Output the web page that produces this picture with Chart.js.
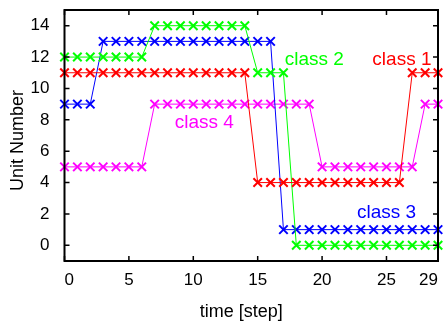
<!DOCTYPE html>
<html>
<head>
<meta charset="utf-8">
<script src="https://cdn.jsdelivr.net/npm/chart.js@4"></script>
<style>
  html, body { margin: 0; padding: 0; background: #fff; }
  #wrap { width: 446px; height: 322px; }
</style>
</head>
<body>
<div id="wrap"><canvas id="chart"></canvas></div>
<script>
const steps = Array.from({ length: 30 }, (_, i) => i)

const class1 = [11, 11, 11, 11, 11, 11, 11, 11, 11, 11, 11, 11, 11, 11, 11,
  4, 4, 4, 4, 4, 4, 4, 4, 4, 4, 4, 4, 11, 11, 11]
const class2 = [12, 12, 12, 12, 12, 12, 12, 14, 14, 14, 14, 14, 14, 14, 14,
  11, 11, 11, 0, 0, 0, 0, 0, 0, 0, 0, 0, 0, 0, 0]
const class3 = [9, 9, 9, 13, 13, 13, 13, 13, 13, 13, 13, 13, 13, 13, 13,
  13, 13, 1, 1, 1, 1, 1, 1, 1, 1, 1, 1, 1, 1, 1]
const class4 = [5, 5, 5, 5, 5, 5, 5, 9, 9, 9, 9, 9, 9, 9, 9,
  9, 9, 9, 9, 9, 5, 5, 5, 5, 5, 5, 5, 5, 9, 9]

const xTicks = [0, 5, 10, 15, 20, 25, 29]
const yTicks = [0, 2, 4, 6, 8, 10, 12, 14]

// label text and where it sits, in data units
const labels = [
  { text: "class 1", x: 26.2, y: 11.8, color: "#ff0000" },
  { text: "class 2", x: 19.4, y: 11.8, color: "#00ff00" },
  { text: "class 3", x: 25.0, y: 2.1, color: "#0000ff" },
  { text: "class 4", x: 10.85, y: 7.8, color: "#ff00ff" },
]

const FONT = "'Liberation Sans', Arial, sans-serif"

const series = (label, values, color) => ({
  label,
  data: values.map((v, i) => ({ x: steps[i], y: v })),
  borderColor: color,
  backgroundColor: color,
  borderWidth: 1,
  pointStyle: "crossRot",
  pointRadius: 6,
  pointBorderWidth: 2,
  pointHoverRadius: 6,
  tension: 0,
  clip: false,
})

const matlabAxes = {
  id: "matlabAxes",
  afterDatasetsDraw(chart) {
    const { ctx, chartArea: a, scales } = chart
    ctx.save()
    ctx.strokeStyle = "#000"
    ctx.lineWidth = 2
    ctx.strokeRect(a.left, a.top, a.right - a.left, a.bottom - a.top)
    ctx.lineWidth = 1.5
    ctx.beginPath()
    const tl = 5
    scales.x.ticks.forEach(t => {
      const px = scales.x.getPixelForValue(t.value)
      ctx.moveTo(px, a.bottom); ctx.lineTo(px, a.bottom - tl)
      ctx.moveTo(px, a.top); ctx.lineTo(px, a.top + tl)
    })
    scales.y.ticks.forEach(t => {
      const py = scales.y.getPixelForValue(t.value)
      ctx.moveTo(a.left, py); ctx.lineTo(a.left + tl, py)
      ctx.moveTo(a.right, py); ctx.lineTo(a.right - tl, py)
    })
    ctx.stroke()

    ctx.textAlign = "center"
    ctx.textBaseline = "middle"
    ctx.font = "19px " + FONT
    labels.forEach(l => {
      ctx.fillStyle = l.color
      ctx.fillText(l.text, scales.x.getPixelForValue(l.x), scales.y.getPixelForValue(l.y))
    })

    ctx.fillStyle = "#000"
    ctx.font = "18px " + FONT
    ctx.fillText("time [step]", a.left + (a.right - a.left) * 0.473, 312)
    ctx.translate(18, (a.top + a.bottom) / 2 + 5)
    ctx.rotate(-Math.PI / 2)
    ctx.fillText("Unit Number", 0, 0)
    ctx.restore()
  },
}

new Chart(document.getElementById("chart"), {
  type: "line",
  data: {
    datasets: [
      series("class 1", class1, "#ff0000"),
      series("class 2", class2, "#00ff00"),
      series("class 3", class3, "#0000ff"),
      series("class 4", class4, "#ff00ff"),
    ],
  },
  options: {
    responsive: true,
    maintainAspectRatio: false,
    animation: false,
    events: [],
    layout: { padding: { left: 0, right: 6, top: 10, bottom: 0 } },
    plugins: { legend: { display: false }, tooltip: { enabled: false } },
    scales: {
      x: {
        type: "linear",
        min: 0,
        max: 29,
        grid: { display: false },
        border: { display: false },
        afterBuildTicks: s => { s.ticks = xTicks.map(v => ({ value: v })) },
        afterFit: s => { s.height = 61; s.paddingLeft = 0; s.paddingRight = 0 },
        ticks: { color: "#000", font: { family: FONT, size: 17 }, padding: 1, align: "inner", maxRotation: 0, autoSkip: false },
      },
      y: {
        min: -1,
        max: 15,
        grid: { display: false },
        border: { display: false },
        afterBuildTicks: s => { s.ticks = yTicks.map(v => ({ value: v })) },
        afterFit: s => { s.width = 64.5; s.paddingTop = 0; s.paddingBottom = 0 },
        ticks: { color: "#000", font: { family: FONT, size: 17 }, padding: 7 },
      },
    },
  },
  plugins: [matlabAxes],
})
</script>
</body>
</html>
